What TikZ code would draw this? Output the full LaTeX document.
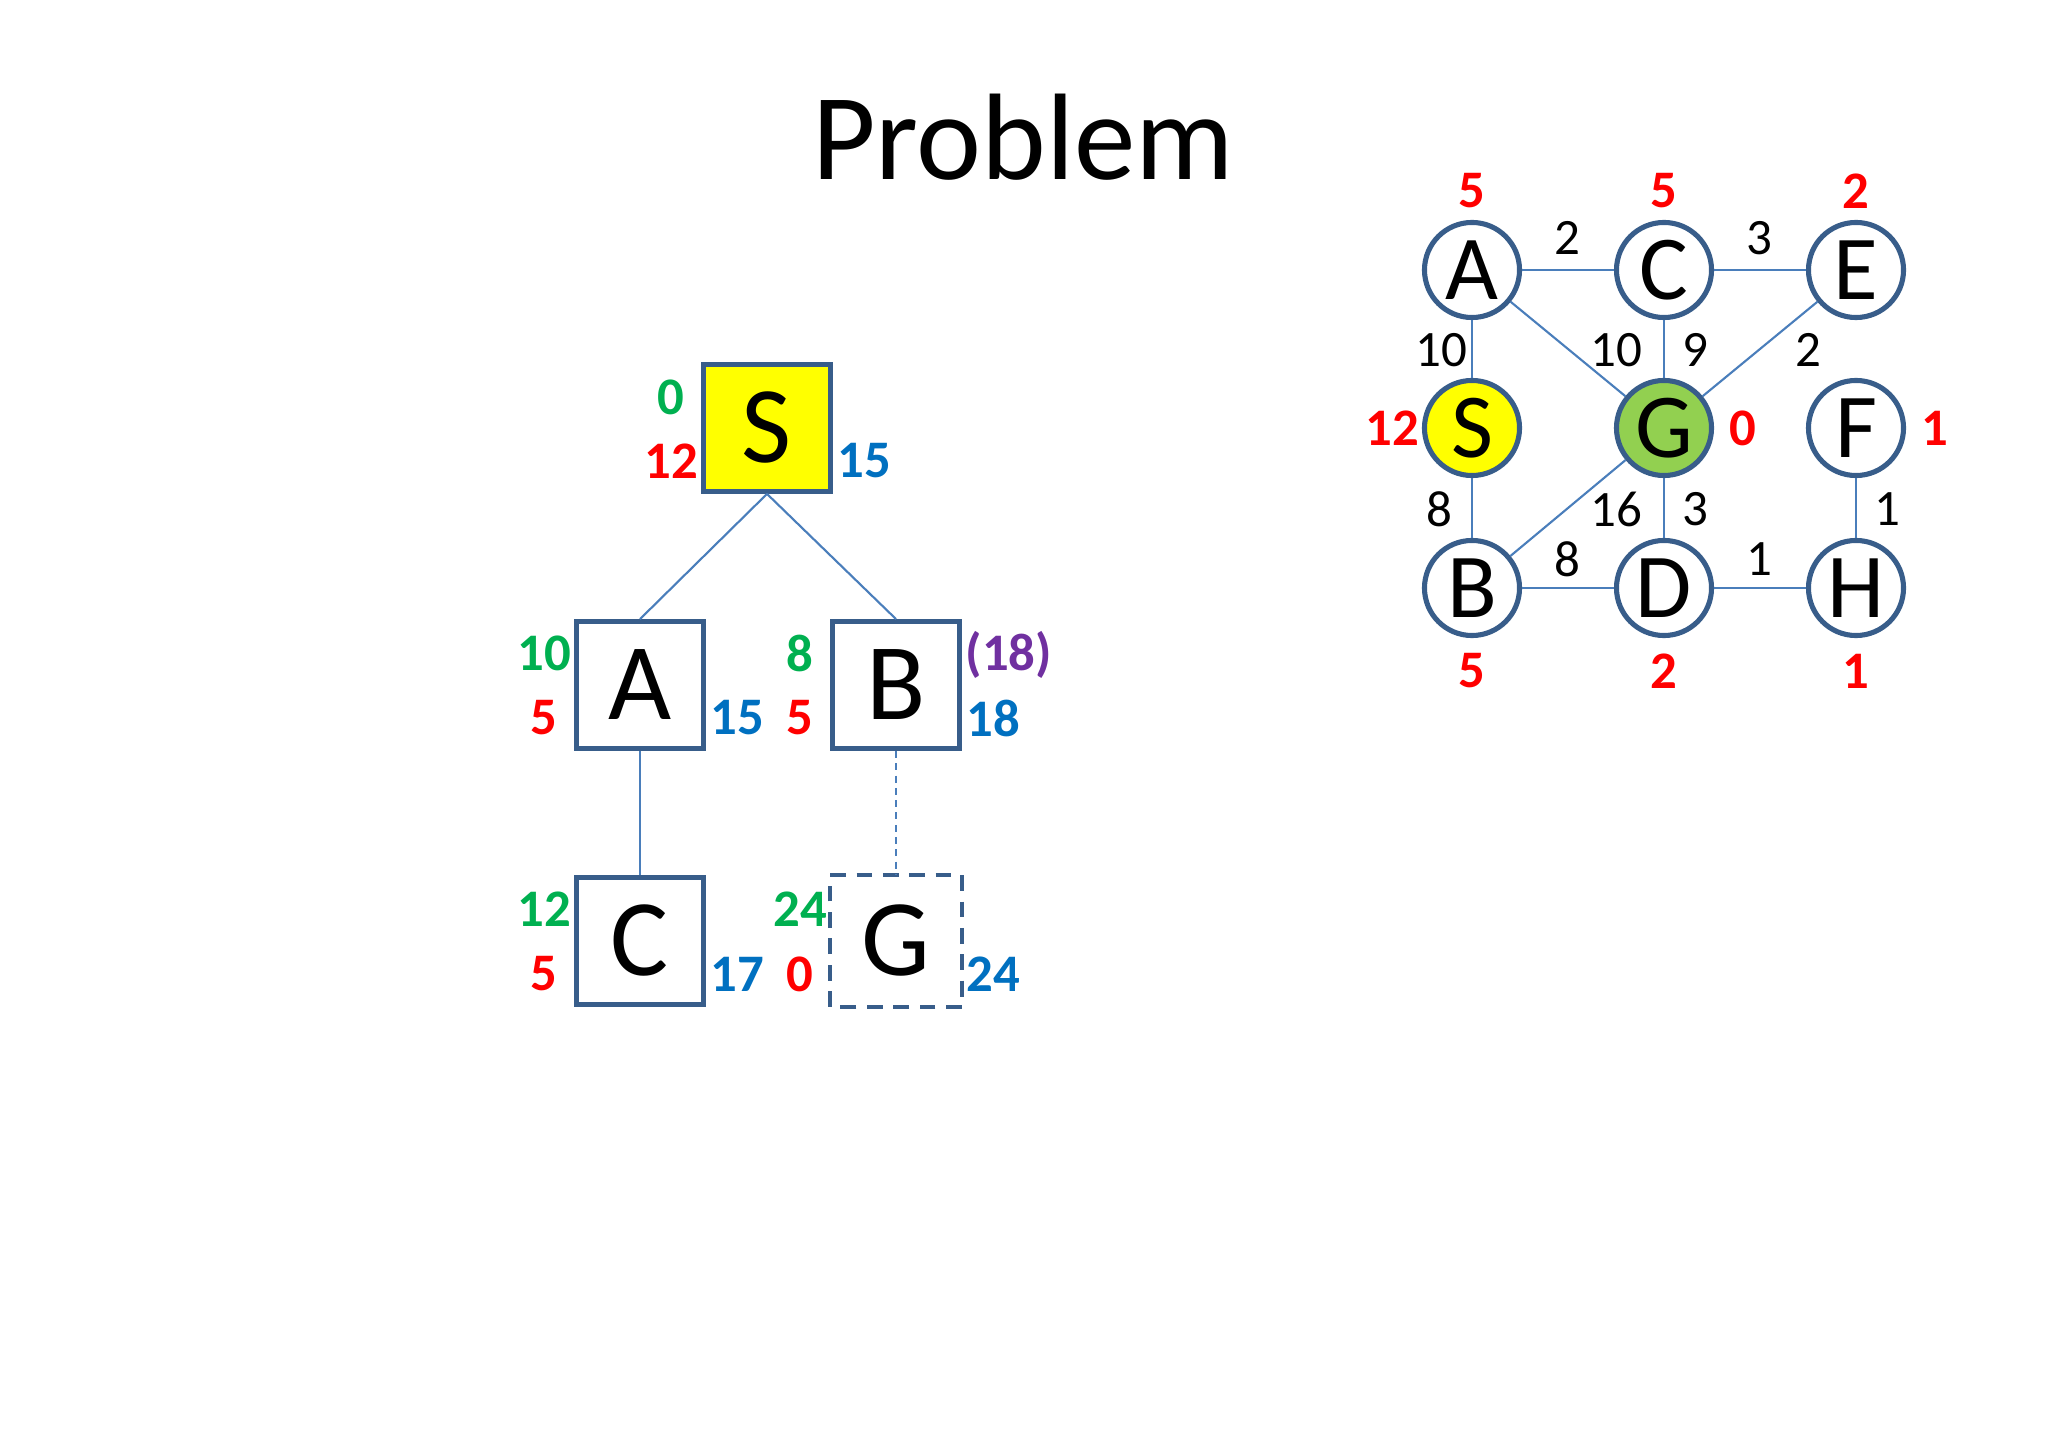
\documentclass[tikz,border=0pt]{standalone}
\usepackage{fontspec}
\setmainfont{Carlito}
\usetikzlibrary{positioning}
\definecolor{boxline}{RGB}{56,93,138}
\definecolor{edgeline}{RGB}{74,126,187}
\definecolor{gcost}{RGB}{0,176,80}
\definecolor{hcost}{RGB}{255,0,0}
\definecolor{fcost}{RGB}{0,112,192}
\definecolor{oldcost}{RGB}{112,48,160}
\definecolor{goalfill}{RGB}{146,208,80}
\definecolor{startfill}{RGB}{255,255,0}
\tikzset{
  every node/.style={inner sep=0pt},
  title/.style={font=\fontsize{35}{40}\selectfont},
  treebox/.style={draw=boxline,line width=1.35pt,fill=white,
    minimum size=1.27cm,font=\fontsize{31}{36}\selectfont},
  statenode/.style={circle,draw=boxline,line width=1.45pt,fill=white,
    minimum size=0.95cm,font=\fontsize{26}{30}\selectfont},
  treeedge/.style={draw=edgeline,line width=0.6pt},
  graphedge/.style={draw=edgeline,line width=0.6pt},
  wt/.style={font=\fontsize{14.5}{17}\selectfont},
  gval/.style={text=gcost,font=\bfseries\fontsize{15}{18}\selectfont},
  hval/.style={text=hcost,font=\bfseries\fontsize{15}{18}\selectfont},
  fval/.style={text=fcost,font=\bfseries\fontsize{15}{18}\selectfont,anchor=west},
  oval/.style={text=oldcost,font=\bfseries\fontsize{15}{18}\selectfont,anchor=west}
}
\begin{document}
\begin{tikzpicture}[x=0.01cm,y=-0.01cm]
    \useasboundingbox (0,0) rectangle (2048,1434);

    % title
    \node[title,anchor=base] (title) at (1023,180) {Problem};

    % search tree
    \node[treebox,fill=startfill] (tS) at (767,428) {S};
    \node[treebox] (tA) at (640,685) {A};
    \node[treebox] (tB) at (896,685) {B};
    \node[treebox] (tC) at (640,941) {C};
    \node[treebox,draw=none,fill=none] (tG) at (896,941) {G};
    \draw[boxline,line width=1.35pt,dash pattern=on 4.5pt off 3pt]
        (tG.south west) rectangle (tG.north east);

    \draw[treeedge] (tS.south) -- (tA.north);
    \draw[treeedge] (tS.south) -- (tB.north);
    \draw[treeedge] (tA.south) -- (tC.north);
    \draw[treeedge,dash pattern=on 2pt off 1.5pt] (tB.south) -- (tG.north);

    % g, h, f values
    \node[gval] (gS) at (671,397) {0};
    \node[hval] (hS) at (671,461) {12};
    \node[fval] (fS) at (837,461) {15};

    \node[gval] (gA) at (544,653) {10};
    \node[hval] (hA) at (544,718) {5};
    \node[fval] (fA) at (710,718) {15};

    \node[gval] (gB) at (800,653) {8};
    \node[hval] (hB) at (800,718) {5};
    \node[oval] (oB) at (965,655) {(18)};
    \node[fval] (fB) at (966,718) {18};

    \node[gval] (gC) at (544,909) {12};
    \node[hval] (hC) at (544,974) {5};
    \node[fval] (fC) at (710,974) {17};

    \node[gval] (gG) at (800,909) {24};
    \node[hval] (hG) at (800,974) {0};
    \node[fval] (fG) at (966,974) {24};

    % state graph
    \node[statenode] (A) at (1472,270) {A};
    \node[statenode] (C) at (1664,270) {C};
    \node[statenode] (E) at (1856,270) {E};
    \node[statenode,fill=startfill] (S) at (1472,428) {S};
    \node[statenode,fill=goalfill] (G) at (1664,428) {G};
    \node[statenode] (F) at (1856,428) {F};
    \node[statenode] (B) at (1472,588) {B};
    \node[statenode] (D) at (1664,588) {D};
    \node[statenode] (H) at (1856,588) {H};

    \draw[graphedge] (A) -- (C);
    \draw[graphedge] (C) -- (E);
    \draw[graphedge] (A) -- (S);
    \draw[graphedge] (A) -- (G);
    \draw[graphedge] (C) -- (G);
    \draw[graphedge] (E) -- (G);
    \draw[graphedge] (S) -- (B);
    \draw[graphedge] (B) -- (G);
    \draw[graphedge] (G) -- (D);
    \draw[graphedge] (B) -- (D);
    \draw[graphedge] (D) -- (H);
    \draw[graphedge] (F) -- (H);

    % edge costs
    \node[wt] (wAC) at (1567,238) {2};
    \node[wt] (wCE) at (1759,238) {3};
    \node[wt] (wAS) at (1441,350) {10};
    \node[wt] (wAG) at (1616,350) {10};
    \node[wt] (wCG) at (1695,350) {9};
    \node[wt] (wEG) at (1808,350) {2};
    \node[wt] (wSB) at (1439,509) {8};
    \node[wt] (wBG) at (1616,509) {16};
    \node[wt] (wGD) at (1695,509) {3};
    \node[wt] (wFH) at (1887,509) {1};
    \node[wt] (wBD) at (1567,559) {8};
    \node[wt] (wDH) at (1759,559) {1};

    % heuristic values
    \node[hval] (hgA) at (1472,191) {5};
    \node[hval] (hgC) at (1664,191) {5};
    \node[hval] (hgE) at (1856,191) {2};
    \node[hval] (hgS) at (1392,428) {12};
    \node[hval] (hgG) at (1743,428) {0};
    \node[hval] (hgF) at (1935,428) {1};
    \node[hval] (hgB) at (1472,671) {5};
    \node[hval] (hgD) at (1664,671) {2};
    \node[hval] (hgH) at (1856,671) {1};
\end{tikzpicture}
\end{document}
